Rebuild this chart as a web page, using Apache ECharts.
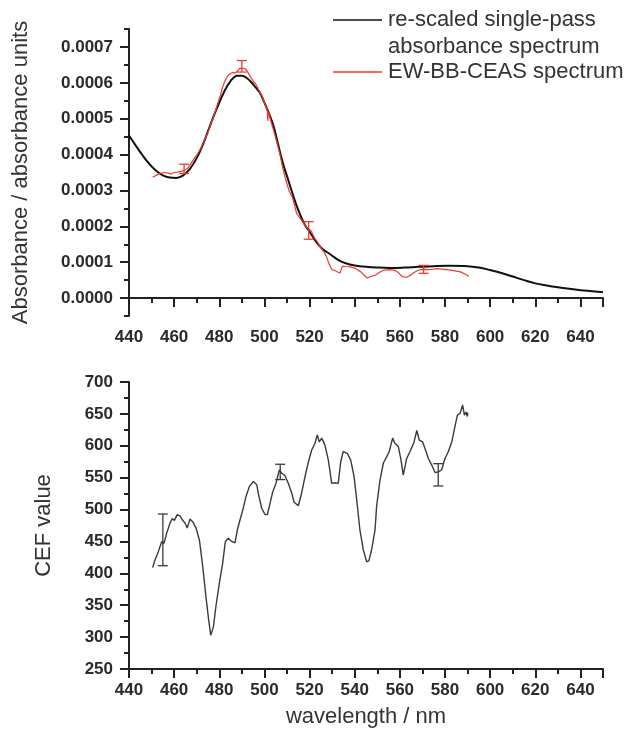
<!DOCTYPE html>
<html>
<head>
<meta charset="utf-8">
<title>EW-BB-CEAS spectrum and CEF</title>
<script src="https://cdn.jsdelivr.net/npm/echarts@6/dist/echarts.min.js"></script>
<style>
  html, body { margin: 0; padding: 0; background: #fff; }
  #chart { width: 627px; height: 737px; }
</style>
</head>
<body>
<div id="chart"></div>
<script>
// 上图：单程吸收光谱（黑）
const singlePassWl = [440, 443, 446, 449, 452, 455, 458, 461, 464, 467, 470, 473, 476, 479, 482, 485, 488, 490, 492, 494, 496, 498, 500, 502, 504, 506, 508, 510, 512, 514, 516, 518, 520, 522, 524, 526, 528, 530, 533, 536, 540, 545, 550, 556, 562, 568, 575, 582, 590, 595, 600, 605, 610, 615, 620, 625, 630, 635, 640, 645, 650]
const singlePassAbs = [0.000453, 0.000425, 0.000398, 0.000374, 0.000355, 0.000342, 0.000336, 0.000335, 0.000342, 0.000360, 0.000390, 0.000432, 0.000482, 0.000530, 0.000573, 0.000605, 0.000620, 0.000620, 0.000614, 0.000603, 0.000588, 0.000572, 0.000545, 0.000515, 0.000480, 0.000430, 0.000380, 0.000340, 0.000300, 0.000262, 0.000230, 0.000203, 0.000185, 0.000165, 0.000148, 0.000135, 0.000127, 0.000118, 0.000105, 0.000097, 0.000091, 0.000087, 0.000085, 0.000084, 0.000085, 0.000087, 0.000089, 0.000090, 0.000089, 0.000085, 0.000078, 0.000070, 0.000060, 0.000050, 0.000041, 0.000035, 0.000030, 0.000026, 0.000022, 0.000019, 0.000016]

// 上图：EW-BB-CEAS 光谱（红）
const ceasWl = [450.5, 452, 454, 456, 458.5, 460, 461.5, 463, 464.5, 466, 467.4, 469, 470.4, 472, 473.3, 475, 476.3, 478, 479.2, 480.5, 481.4, 482.5, 483.7, 485, 485.9, 487, 488.1, 489, 489.6, 490.5, 491.8, 492.5, 494, 495, 496.2, 497.5, 499.2, 500.5, 501.2, 501.5, 501.8, 503, 504.2, 505.5, 506.9, 508.2, 509.6, 511, 512.4, 513.3, 514.3, 515.5, 516.6, 517.6, 519, 520.5, 522, 523.5, 525, 526.4, 527.5, 528.6, 529.9, 530.8, 532.6, 533.5, 534.5, 536, 538.2, 540.5, 542.7, 544, 545.6, 547, 549.3, 551, 553, 555.5, 557.4, 558.5, 559.6, 561, 561.8, 563, 564.8, 566.3, 567.7, 569, 570.6, 573, 576.6, 579.5, 582.5, 585, 586.9, 588.5, 590.6]
const ceasAbs = [0.000337, 0.000342, 0.000348, 0.000350, 0.000346, 0.000350, 0.000351, 0.000353, 0.000356, 0.000362, 0.000374, 0.000390, 0.000402, 0.000420, 0.000439, 0.000462, 0.000485, 0.000515, 0.000541, 0.000565, 0.000587, 0.000605, 0.000619, 0.000626, 0.000629, 0.000627, 0.000633, 0.000640, 0.000643, 0.000640, 0.000638, 0.000633, 0.000615, 0.000605, 0.000596, 0.000580, 0.000560, 0.000535, 0.000527, 0.000494, 0.000520, 0.000490, 0.000465, 0.000435, 0.000400, 0.000360, 0.000327, 0.000297, 0.000281, 0.000260, 0.000235, 0.000225, 0.000216, 0.000207, 0.000195, 0.000189, 0.000170, 0.000156, 0.000140, 0.000129, 0.000115, 0.000096, 0.000079, 0.000078, 0.000072, 0.000070, 0.000089, 0.000088, 0.000087, 0.000082, 0.000073, 0.000065, 0.000056, 0.000060, 0.000064, 0.000072, 0.000078, 0.000079, 0.000078, 0.000075, 0.000069, 0.000060, 0.000055, 0.000058, 0.000064, 0.000071, 0.000076, 0.000079, 0.000080, 0.000079, 0.000082, 0.000080, 0.000078, 0.000075, 0.000073, 0.000068, 0.000061]
// 误差棒 [波长, 下限, 上限]
const ceasErrWl = [464.4, 490, 519.6, 570.5]
const ceasErrLow = [0.000347, 0.000630, 0.000164, 0.000069]
const ceasErrHigh = [0.000373, 0.000662, 0.000213, 0.000091]

// 下图：CEF
const cefWl = [450.5, 451.5, 453, 454.5, 455.5, 456.7, 458.2, 459.2, 460.1, 461.4, 462.6, 463.6, 464.8, 465.8, 467, 468.2, 469.7, 471.2, 472.7, 474.1, 475.3, 476.2, 477.4, 478.5, 480, 481.5, 482.7, 484, 485.5, 487, 488, 489.2, 490.4, 491.8, 493.3, 495.1, 496.6, 497.3, 498.8, 500.3, 501.3, 502.5, 503.7, 505.1, 506.6, 507.7, 509.1, 510.6, 512.1, 513.1, 515, 516.5, 518, 519.5, 520.9, 522.4, 523.4, 524.3, 525.4, 526.8, 528.3, 529.8, 531.3, 532.7, 533.8, 534.9, 536.7, 538.2, 539.7, 540.9, 542.3, 543.8, 545.3, 546.3, 547.5, 549, 549.7, 551.2, 552.7, 554.2, 555.3, 556.8, 557.8, 559.3, 560.5, 561.5, 563, 564.8, 566.3, 567.5, 568.6, 570.1, 571.6, 572.6, 574.1, 575.6, 577, 578.5, 580, 581.5, 583, 584.4, 585.5, 586.7, 587.8, 588.6, 589.3, 589.9, 590.1]
const cefVal = [409, 421, 434, 450, 447, 463, 479, 486, 483, 492, 490, 484, 479, 471, 485, 481, 471, 452, 410, 363, 327, 303, 316, 348, 384, 416, 450, 455, 450, 448, 468, 484, 499, 520, 536, 544, 539, 525, 502, 492, 492, 510, 528, 541, 562, 557, 553, 541, 526, 512, 506, 526, 552, 575, 593, 604, 617, 606, 612, 601, 578, 541, 542, 541, 575, 591, 588, 578, 552, 515, 468, 437, 418, 420, 437, 468, 505, 546, 573, 583, 591, 612, 604, 599, 578, 554, 580, 593, 606, 624, 609, 606, 591, 580, 570, 558, 559, 562, 580, 591, 606, 630, 648, 651, 664, 648, 653, 646, 652]
const cefErrWl = [455, 507, 577]
const cefErrLow = [412, 547, 537]
const cefErrHigh = [493, 571, 572]

// 刻度
const xTickInterval = 20
const absLabelValues = [0, 0.0001, 0.0002, 0.0003, 0.0004, 0.0005, 0.0006, 0.0007]

const zip = (a, b) => a.map((v, i) => [v, b[i]])
const zip3 = (a, b, c) => a.map((v, i) => [v, b[i], c[i]])

const FONT = 'Liberation Sans, Arial, sans-serif'
const AXIS_COLOR = '#222'

const chart = echarts.init(document.getElementById('chart'))

function errorBar(color, width) {
  return function(params, api) {
    const x = api.value(0)
    const lo = api.coord([x, api.value(1)])
    const hi = api.coord([x, api.value(2)])
    const half = 5
    const style = { stroke: color, lineWidth: width }
    return {
      type: 'group',
      children: [
        { type: 'line', shape: { x1: lo[0], y1: lo[1], x2: hi[0], y2: hi[1] }, style },
        { type: 'line', shape: { x1: lo[0] - half, y1: lo[1], x2: lo[0] + half, y2: lo[1] }, style },
        { type: 'line', shape: { x1: hi[0] - half, y1: hi[1], x2: hi[0] + half, y2: hi[1] }, style }
      ]
    }
  }
}

function xAxis(gridIndex) {
  return {
    type: 'value',
    gridIndex,
    min: 440,
    max: 650,
    interval: xTickInterval,
    axisLine: { lineStyle: { color: AXIS_COLOR, width: 2 } },
    axisTick: { show: true, length: 9, inside: false, lineStyle: { color: AXIS_COLOR, width: 2 } },
    minorTick: { show: true, splitNumber: 2, length: 5, lineStyle: { color: AXIS_COLOR, width: 2 } },
    axisLabel: { margin: 13, showMaxLabel: false, color: '#2a2a2a', fontWeight: 'bold', fontSize: 17, fontFamily: FONT },
    splitLine: { show: false }
  }
}

const option = {
  backgroundColor: '#fff',
  animation: false,
  grid: [
    { left: 129, right: 24, top: 29, height: 287 },
    { left: 129, right: 24, top: 382, height: 287 }
  ],
  xAxis: [
    xAxis(0),
    Object.assign(xAxis(1), {
      name: 'wavelength / nm',
      nameLocation: 'middle',
      nameGap: 37,
      nameTextStyle: { fontSize: 22, color: '#333', fontFamily: FONT }
    })
  ],
  yAxis: [
    {
      // 主轴：标签与长刻度
      type: 'value',
      gridIndex: 0,
      position: 'left',
      min: -0.00005,
      max: 0.00075,
      interval: 0.00005,
      name: 'Absorbance / absorbance units',
      nameLocation: 'middle',
      nameGap: 97,
      nameTextStyle: { fontSize: 22, color: '#333', fontFamily: FONT },
      axisLine: { show: true, lineStyle: { color: AXIS_COLOR, width: 2 } },
      axisTick: { show: true, length: 9, customValues: absLabelValues, lineStyle: { color: AXIS_COLOR, width: 2 } },
      axisLabel: {
        margin: 16,
        customValues: absLabelValues,
        formatter: v => v.toFixed(4),
        color: '#2a2a2a', fontWeight: 'bold', fontSize: 17, fontFamily: FONT
      },
      splitLine: { show: false }
    },
    {
      // 辅助轴：短刻度
      type: 'value',
      gridIndex: 0,
      position: 'left',
      offset: 0,
      min: -0.00005,
      max: 0.00075,
      interval: 0.00005,
      axisLine: { show: false },
      axisTick: { show: true, length: 5, lineStyle: { color: AXIS_COLOR, width: 2 } },
      axisLabel: { show: false },
      splitLine: { show: false }
    },
    {
      type: 'value',
      gridIndex: 1,
      min: 250,
      max: 700,
      interval: 50,
      name: 'CEF value',
      nameLocation: 'middle',
      nameGap: 74,
      nameTextStyle: { fontSize: 22, color: '#333', fontFamily: FONT },
      axisLine: { show: true, lineStyle: { color: AXIS_COLOR, width: 2 } },
      axisTick: { show: true, length: 9, lineStyle: { color: AXIS_COLOR, width: 2 } },
      minorTick: { show: true, splitNumber: 2, length: 5, lineStyle: { color: AXIS_COLOR, width: 2 } },
      axisLabel: { margin: 16, color: '#2a2a2a', fontWeight: 'bold', fontSize: 17, fontFamily: FONT },
      splitLine: { show: false }
    }
  ],
  series: [
    {
      name: 're-scaled single-pass absorbance spectrum',
      type: 'line',
      xAxisIndex: 0,
      yAxisIndex: 0,
      data: zip(singlePassWl, singlePassAbs),
      smooth: 0.4,
      showSymbol: false,
      lineStyle: { color: '#111', width: 2 },
      z: 2
    },
    {
      name: 'EW-BB-CEAS spectrum',
      type: 'line',
      xAxisIndex: 0,
      yAxisIndex: 0,
      data: zip(ceasWl, ceasAbs),
      showSymbol: false,
      lineStyle: { color: '#f03a2a', width: 1.2 },
      z: 3
    },
    {
      type: 'custom',
      xAxisIndex: 0,
      yAxisIndex: 0,
      data: zip3(ceasErrWl, ceasErrLow, ceasErrHigh),
      encode: { x: 0, y: [1, 2] },
      renderItem: errorBar('#f03a2a', 1.3),
      z: 4
    },
    {
      name: 'CEF',
      type: 'line',
      xAxisIndex: 1,
      yAxisIndex: 2,
      data: zip(cefWl, cefVal),
      showSymbol: false,
      lineStyle: { color: '#3a3a3a', width: 1.4 }
    },
    {
      type: 'custom',
      xAxisIndex: 1,
      yAxisIndex: 2,
      data: zip3(cefErrWl, cefErrLow, cefErrHigh),
      encode: { x: 0, y: [1, 2] },
      renderItem: errorBar('#3a3a3a', 1.3)
    }
  ],
  // 图例
  graphic: [
    { type: 'line', shape: { x1: 333, y1: 20, x2: 382, y2: 20 }, style: { stroke: '#111', lineWidth: 1.5 } },
    { type: 'text', x: 388, y: 20, style: { text: 're-scaled single-pass', fontSize: 22, fontFamily: FONT, fill: '#333', verticalAlign: 'middle' } },
    { type: 'text', x: 388, y: 47, style: { text: 'absorbance spectrum', fontSize: 22, fontFamily: FONT, fill: '#333', verticalAlign: 'middle' } },
    { type: 'line', shape: { x1: 333, y1: 72, x2: 382, y2: 72 }, style: { stroke: '#f03a2a', lineWidth: 1.5 } },
    { type: 'text', x: 388, y: 72, style: { text: 'EW-BB-CEAS spectrum', fontSize: 22, fontFamily: FONT, fill: '#333', verticalAlign: 'middle' } }
  ]
}

chart.setOption(option)
</script>
</body>
</html>
